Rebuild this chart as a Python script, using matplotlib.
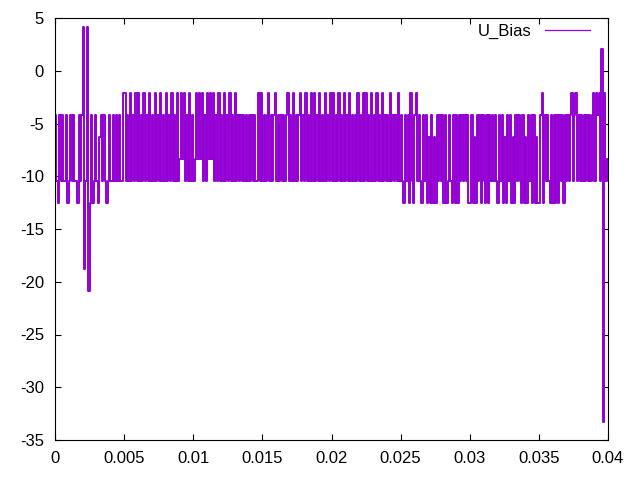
import numpy as np
import matplotlib
matplotlib.use('Agg')
import matplotlib.pyplot as plt

# Quantised levels of the U_Bias signal (step of 25/12)
levels = {
    'P': 4.17, 'p': 2.08, '1': -2.08, '2': -4.17, '3': -6.25,
    '4': -8.33, '5': -10.42, '6': -12.5, 'Q': -18.75, 'R': -20.83, 'Z': -33.33,
}

# One code string per 0.005 s slice
seg_starts = [0.0, 0.005, 0.01, 0.015, 0.02, 0.025, 0.03, 0.035]
seg_codes = [
    "25" "6" "252552" "6" "525255" "6" "252" "PQ" "5" "PR" "6" "2" "6" "525" "6"
    "32525" "6" "52552525255" "1",
    "15251525151525152515251525152515251525154141525152",
    "5" "414141" "5251" "4141" "5251525152515251525" "252525252525" "5151",
    "5252" "1" "5252" "1" "52525252" "1" "525" "1" "5252" "1" "52"
    "51525151525152515251",
    "51525152515251525" "2515251515251525152515252515252515",
    "25" "6" "252" "6" "1" "5" "6" "2" "1" "52" "5" "6252636" "2636252" "52"
    "6265" "25" "6262" "625252526",
    "62636" "252" "6" "25" "6" "2" "6" "252525" "6252636252636" "2525" "6" "2"
    "636" "25262" "636",
    "62" "1" "6" "2525" "6262" "626" "252" "6" "25252" "1" "52" "1"
    "525252525252" "151215" "p" "Z" "154",
]
seg_len = 0.005

x_ticks = [0, 0.005, 0.01, 0.015, 0.02, 0.025, 0.03, 0.035, 0.04]
x_labels = ['0', '0.005', '0.01', '0.015', '0.02', '0.025', '0.03', '0.035', '0.04']
y_ticks = [5, 0, -5, -10, -15, -20, -25, -30, -35]

t = []
u = []
for start, codes in zip(seg_starts, seg_codes):
    n = len(codes)
    for i, c in enumerate(codes):
        t.append(start + seg_len * i / n)
        u.append(levels[c])
t.append(0.04)
u.append(levels['4'])

plt.rcParams['font.family'] = ['Liberation Sans', 'DejaVu Sans']
plt.rcParams['axes.unicode_minus'] = False

fig = plt.figure(figsize=(6.4, 4.8), dpi=100)
ax = fig.add_axes([55 / 640, 40 / 480, 553 / 640, 422 / 480])

ax.plot(t, u, color='#9400D3', linewidth=1.4, drawstyle='steps-post', label='U_Bias')

ax.set_xlim(0, 0.04)
ax.set_ylim(-35, 5)
ax.set_xticks(x_ticks)
ax.set_xticklabels(x_labels)
ax.set_yticks(y_ticks)
ax.tick_params(direction='in', top=True, right=True, length=4.5, width=0.8,
               labelsize=12, pad=8, colors='black')
for s in ax.spines.values():
    s.set_linewidth(0.8)

leg = ax.legend(loc='upper right', frameon=False, markerfirst=False, fontsize=12,
                handlelength=2.7, handletextpad=0.8, borderpad=0, borderaxespad=0,
                bbox_to_anchor=((590 - 55) / 553, 1 - 6 / 422))
leg.get_lines()[0].set_linewidth(0.9)

fig.savefig('out.png', dpi=100)
